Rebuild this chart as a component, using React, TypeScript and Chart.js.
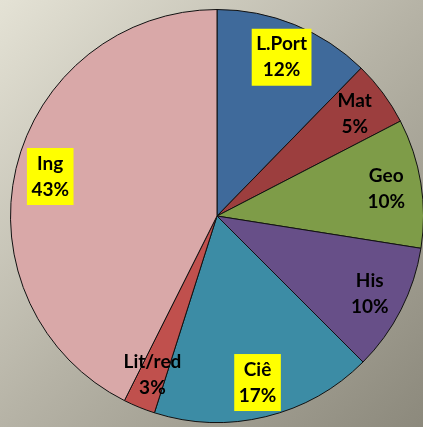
import React, { useEffect, useRef } from "react";
import { Chart, registerables } from "chart.js";

Chart.register(...registerables);

const categories = ["L.Port", "Mat", "Geo", "His", "Ciê", "Lit/red", "Ing"];
const values = [12.3, 5.1, 10.1, 10.0, 17.4, 2.5, 42.6];
const colors = ["#3F6A9B", "#9C3E3E", "#7E9C48", "#674F88", "#3C8CA5", "#C0504D", "#D9A8A8"];
const highlighted = ["L.Port", "Ciê", "Ing"];

const labelPlugin = {
  id: "sliceLabels",
  afterDatasetsDraw(chart: any) {
    const ctx = chart.ctx;
    const meta = chart.getDatasetMeta(0);
    const total = values.reduce((a, b) => a + b, 0);
    ctx.save();
    ctx.font = "bold 19px Lato";
    ctx.textAlign = "center";
    ctx.textBaseline = "middle";
    const lineH = 26;
    meta.data.forEach((arc: any, i: number) => {
      const mid = (arc.startAngle + arc.endAngle) / 2;
      const r = arc.outerRadius * 0.83;
      const cx = arc.x + Math.cos(mid) * r;
      const cy = arc.y + Math.sin(mid) * r;
      const l1 = categories[i];
      const l2 = Math.round((values[i] / total) * 100) + "%";
      if (highlighted.includes(l1)) {
        const w = Math.max(ctx.measureText(l1).width, ctx.measureText(l2).width) + 9;
        const h = 57;
        ctx.fillStyle = "#FFFF00";
        ctx.fillRect(cx - w / 2, cy - h / 2, w, h);
      }
      ctx.fillStyle = "#000";
      ctx.fillText(l1, cx, cy - lineH / 2);
      ctx.fillText(l2, cx, cy + lineH / 2);
    });
    ctx.restore();
  },
};

export default function App() {
  const ref = useRef<HTMLCanvasElement | null>(null);
  useEffect(() => {
    if (!ref.current) return;
    const chart = new Chart(ref.current, {
      type: "pie",
      data: {
        labels: categories,
        datasets: [
          {
            data: values,
            backgroundColor: colors,
            borderColor: "#111",
            borderWidth: 1,
          },
        ],
      },
      options: {
        animation: false,
        responsive: false,
        layout: { padding: { left: 10, right: 10, top: 9, bottom: 4 } },
        plugins: { legend: { display: false }, tooltip: { enabled: false } },
      },
      plugins: [labelPlugin],
    });
    return () => chart.destroy();
  }, []);
  return (
    <div
      style={{
        position: "absolute",
        left: 0,
        top: 0,
        width: 423,
        height: 427,
        overflow: "hidden",
        background: "linear-gradient(135deg, #E4E2D5 0%, #B6B3A6 50%, #8C897C 100%)",
      }}
    >
      <canvas ref={ref} width={434} height={427} style={{ display: "block", width: 434, height: 427 }} />
    </div>
  );
}
